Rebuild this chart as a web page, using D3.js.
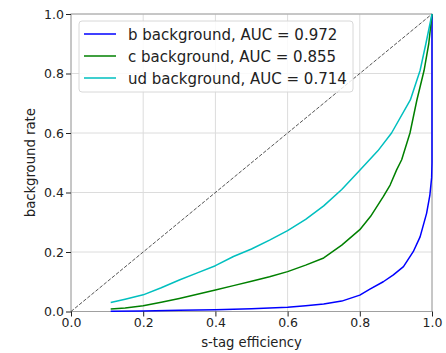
<!DOCTYPE html>
<html>
<head>
<meta charset="utf-8">
<script src="https://cdn.jsdelivr.net/npm/d3@7"></script>
<style>
  html, body { margin: 0; padding: 0; background: #fff; }
  svg { display: block; font-family: "DejaVu Sans", sans-serif; }
</style>
</head>
<body>
<svg id="chart" width="446" height="353"></svg>
<script>
// ---- data ----
const xTicks = [0.0, 0.2, 0.4, 0.6, 0.8, 1.0];
const yTicks = [0.0, 0.2, 0.4, 0.6, 0.8, 1.0];
const seriesNames = ["b background, AUC = 0.972", "c background, AUC = 0.855", "ud background, AUC = 0.714"];
const seriesColors = ["#0000ff", "#008000", "#00bfbf"];

const bEff  = [0.11, 0.2, 0.3, 0.4, 0.5, 0.6, 0.65, 0.7, 0.75, 0.8, 0.828, 0.865, 0.893, 0.921, 0.948, 0.967, 0.985, 0.994, 0.999, 1.0, 1.0];
const bRate = [0.001, 0.002, 0.004, 0.006, 0.009, 0.014, 0.019, 0.025, 0.035, 0.055, 0.075, 0.10, 0.123, 0.151, 0.201, 0.251, 0.33, 0.39, 0.45, 0.5, 1.0];

const cEff  = [0.11, 0.15, 0.2, 0.25, 0.3, 0.35, 0.4, 0.45, 0.5, 0.55, 0.6, 0.65, 0.7, 0.75, 0.8, 0.83, 0.865, 0.884, 0.902, 0.916, 0.939, 0.958, 0.978, 0.991, 1.0];
const cRate = [0.008, 0.012, 0.019, 0.031, 0.044, 0.058, 0.072, 0.087, 0.102, 0.117, 0.134, 0.156, 0.18, 0.223, 0.275, 0.32, 0.386, 0.425, 0.476, 0.51, 0.60, 0.71, 0.81, 0.90, 1.0];

const udEff  = [0.11, 0.15, 0.2, 0.25, 0.3, 0.35, 0.4, 0.45, 0.5, 0.55, 0.6, 0.65, 0.7, 0.75, 0.8, 0.85, 0.888, 0.94, 0.967, 0.983, 1.0];
const udRate = [0.03, 0.041, 0.056, 0.08, 0.106, 0.13, 0.154, 0.185, 0.21, 0.24, 0.272, 0.31, 0.355, 0.41, 0.475, 0.54, 0.60, 0.711, 0.81, 0.90, 1.0];

const diagonal = [[0, 0], [1, 1]];

// ---- layout ----
const svg = d3.select("#chart");
const x0 = 71, x1 = 432, yTop = 14, yBot = 311.5;
const x = d3.scaleLinear().domain([0, 1]).range([x0, x1]);
const y = d3.scaleLinear().domain([0, 1]).range([yBot, yTop]);

// grid
const grid = svg.append("g");
grid.selectAll("line.gx").data(xTicks).join("line")
  .attr("x1", d => x(d)).attr("x2", d => x(d))
  .attr("y1", yTop).attr("y2", yBot)
  .attr("stroke", "#dcdcdc").attr("stroke-width", 1);
grid.selectAll("line.gy").data(yTicks).join("line")
  .attr("x1", x0).attr("x2", x1)
  .attr("y1", d => y(d)).attr("y2", d => y(d))
  .attr("stroke", "#dcdcdc").attr("stroke-width", 1);

// frame
svg.append("rect").attr("x", x0).attr("y", yTop)
  .attr("width", x1 - x0).attr("height", yBot - yTop)
  .attr("fill", "none").attr("stroke", "#a0a0a0").attr("stroke-width", 1);

// diagonal
const line = d3.line().x(d => x(d[0])).y(d => y(d[1]));
svg.append("path").datum(diagonal).attr("d", line)
  .attr("fill", "none").attr("stroke", "#555").attr("stroke-width", 1)
  .attr("stroke-dasharray", "3.7,1.6");

// series
const series = [
  d3.zip(bEff, bRate),
  d3.zip(cEff, cRate),
  d3.zip(udEff, udRate)
];
series.forEach((s, i) => {
  svg.append("path").datum(s).attr("d", line)
    .attr("fill", "none").attr("stroke", seriesColors[i])
    .attr("stroke-width", 1.5).attr("stroke-linejoin", "round");
});

// axes
const xAxis = d3.axisBottom(x).tickValues(xTicks).tickFormat(d3.format(".1f")).tickSize(5).tickPadding(2);
const yAxis = d3.axisLeft(y).tickValues(yTicks).tickFormat(d3.format(".1f")).tickSize(5).tickPadding(2);
const gx = svg.append("g").attr("transform", `translate(0,${yBot})`).call(xAxis);
const gy = svg.append("g").attr("transform", `translate(${x0},0)`).call(yAxis);
[gx, gy].forEach(g => {
  g.select(".domain").remove();
  g.selectAll(".tick line").attr("stroke", "#222").attr("stroke-width", 1);
  g.selectAll(".tick text").attr("fill", "#222").style("font-size", "12.5px").style("font-family", "DejaVu Sans");
});

// axis labels
svg.append("text").attr("x", (x0 + x1) / 2).attr("y", 347)
  .attr("text-anchor", "middle").attr("fill", "#222").style("font-size", "13.2px")
  .text("s-tag efficiency");
svg.append("text").attr("transform", `translate(35,${(yTop + yBot) / 2}) rotate(-90)`)
  .attr("text-anchor", "middle").attr("fill", "#222").style("font-size", "13.2px")
  .text("background rate");

// legend
const lg = svg.append("g");
lg.append("rect").attr("x", 79).attr("y", 21).attr("width", 274).attr("height", 71)
  .attr("rx", 3).attr("fill", "#fff").attr("fill-opacity", 0.85)
  .attr("stroke", "#d8d8d8").attr("stroke-width", 1);
seriesNames.forEach((name, i) => {
  const cy = 34 + i * 22;
  lg.append("line").attr("x1", 84).attr("x2", 116).attr("y1", cy).attr("y2", cy)
    .attr("stroke", seriesColors[i]).attr("stroke-width", 1.5);
  lg.append("text").attr("x", 128).attr("y", cy + 5.5)
    .attr("fill", "#222").style("font-size", "15px").text(name);
});
</script>
</body>
</html>
